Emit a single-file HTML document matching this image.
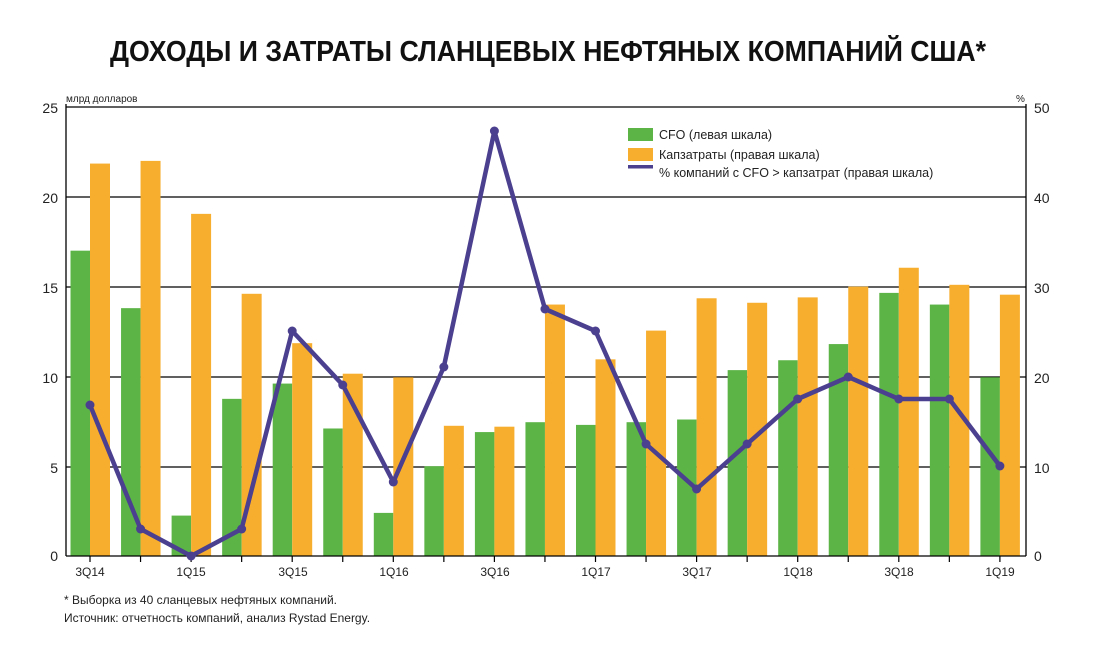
<!DOCTYPE html>
<html><head><meta charset="utf-8"><style>
html,body{margin:0;padding:0;background:#fff;}
svg{display:block;font-family:"Liberation Sans",sans-serif;}
</style></head><body>
<svg id="s" width="1096" height="650" viewBox="0 0 1096 650">
<text x="548" y="61" text-anchor="middle" font-size="29" font-weight="bold" fill="#111" textLength="876" lengthAdjust="spacingAndGlyphs">ДОХОДЫ И ЗАТРАТЫ СЛАНЦЕВЫХ НЕФТЯНЫХ КОМПАНИЙ США*</text>
<g stroke="#000" stroke-width="1.2">
<line x1="66" y1="107" x2="1026" y2="107"/>
<line x1="66" y1="197" x2="1026" y2="197"/>
<line x1="66" y1="287" x2="1026" y2="287"/>
<line x1="66" y1="377" x2="1026" y2="377"/>
<line x1="66" y1="467" x2="1026" y2="467"/>
</g>
<g id="bars"></g>
<g stroke="#000" stroke-width="1.3">
<line x1="66" y1="104" x2="66" y2="556"/>
<line x1="1026" y1="104" x2="1026" y2="556"/>
<line x1="66" y1="556" x2="1026" y2="556"/>
</g>
<g id="ticks" stroke="#000" stroke-width="1.2"></g>
<g id="line"></g>
<g font-size="14" fill="#222">
<text x="58" y="113" text-anchor="end">25</text>
<text x="58" y="203" text-anchor="end">20</text>
<text x="58" y="293" text-anchor="end">15</text>
<text x="58" y="383" text-anchor="end">10</text>
<text x="58" y="473" text-anchor="end">5</text>
<text x="58" y="561" text-anchor="end">0</text>
<text x="1034" y="113">50</text>
<text x="1034" y="203">40</text>
<text x="1034" y="293">30</text>
<text x="1034" y="383">20</text>
<text x="1034" y="473">10</text>
<text x="1034" y="561">0</text>
</g>
<text x="66" y="102" font-size="10" fill="#222">млрд долларов</text>
<text x="1016" y="102" font-size="10" fill="#222">%</text>
<g font-size="12" fill="#222" text-anchor="middle">
<text x="90" y="576">3Q14</text>
<text x="191" y="576">1Q15</text>
<text x="293" y="576">3Q15</text>
<text x="394" y="576">1Q16</text>
<text x="495" y="576">3Q16</text>
<text x="596" y="576">1Q17</text>
<text x="697" y="576">3Q17</text>
<text x="798" y="576">1Q18</text>
<text x="899" y="576">3Q18</text>
<text x="1000" y="576">1Q19</text>
</g>
<rect x="628" y="128" width="25" height="13" fill="#5cb447"/>
<rect x="628" y="148" width="25" height="13" fill="#f7ae2f"/>
<rect x="628" y="165" width="25" height="3.5" fill="#4b3f8f"/>
<g font-size="12.5" fill="#222">
<text x="659" y="139">CFO (левая шкала)</text>
<text x="659" y="159">Капзатраты (правая шкала)</text>
<text x="659" y="177">% компаний с CFO &gt; капзатрат (правая шкала)</text>
</g>
<g font-size="12" fill="#222">
<text x="64" y="604">* Выборка из 40 сланцевых нефтяных компаний.</text>
<text x="64" y="622">Источник: отчетность компаний, анализ Rystad Energy.</text>
</g>
</svg>
<script>
var cfo=[17.0,13.8,2.25,8.75,9.6,7.1,2.4,5.0,6.9,7.45,7.3,7.45,7.6,10.35,10.9,11.8,14.65,14.0,9.95];
var cap=[21.85,22.0,19.05,14.6,11.85,10.15,9.95,7.25,7.2,14.0,10.95,12.55,14.35,14.1,14.4,15.0,16.05,15.1,14.55];
var ly=[405,529,556,529,331,385,482,367,131,309,331,444,489,444,399,377,399,399,466];
var ns="http://www.w3.org/2000/svg",k=17.96,b=document.getElementById('bars'),t=document.getElementById('ticks'),L=document.getElementById('line');
function el(n,a,p){var e=document.createElementNS(ns,n);for(var i in a)e.setAttribute(i,a[i]);p.appendChild(e);return e;}
var pts=[];
for(var i=0;i<19;i++){var c=90+i*50.55;
el('rect',{x:c-19.5,y:556-cfo[i]*k,width:19.5,height:cfo[i]*k,fill:'#5cb447'},b);
el('rect',{x:c,y:556-cap[i]*k,width:20,height:cap[i]*k,fill:'#f7ae2f'},b);
el('line',{x1:c,y1:556,x2:c,y2:562},t);
pts.push(c.toFixed(1)+','+ly[i]);}
el('polyline',{points:pts.join(' '),fill:'none',stroke:'#4b3f8f','stroke-width':4.5,'stroke-linejoin':'round'},L);
for(var i=0;i<19;i++){el('circle',{cx:90+i*50.55,cy:ly[i],r:4.5,fill:'#4b3f8f'},L);}
</script>
</body></html>
